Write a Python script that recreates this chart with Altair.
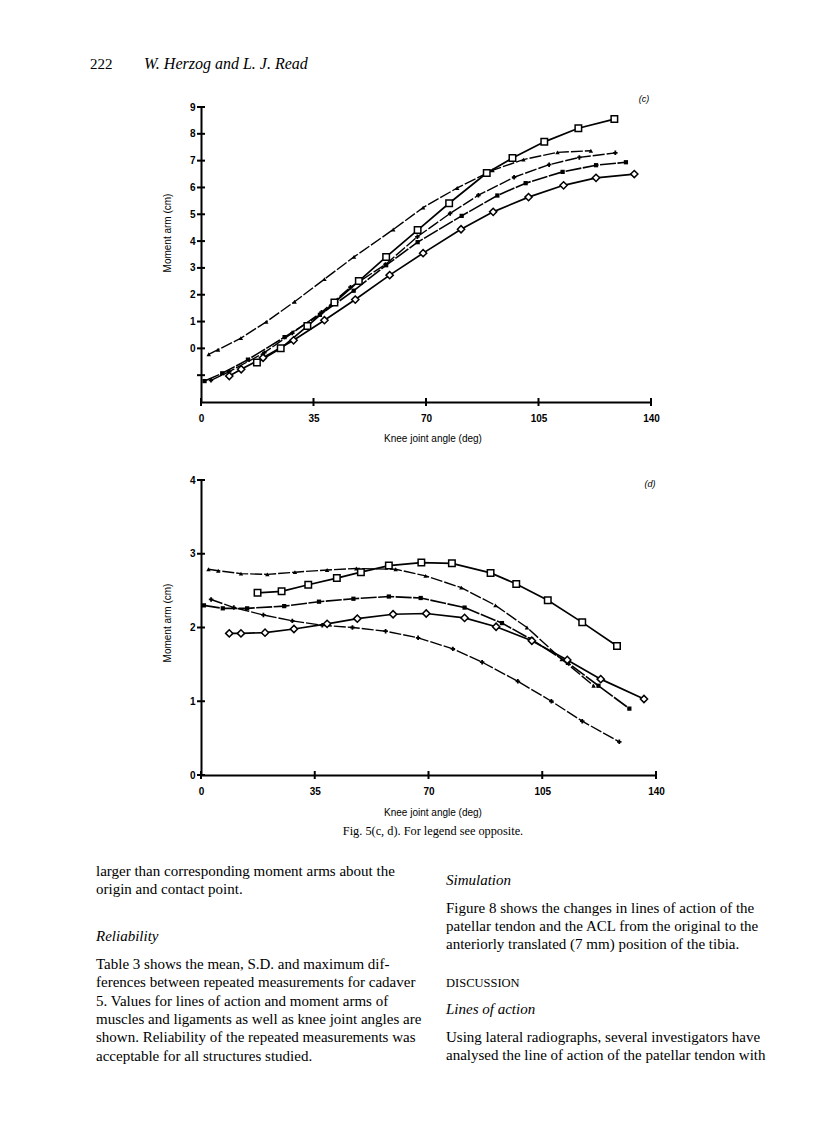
import altair as alt
import pandas as pd

# ---------------- data: panel (c) ----------------
c_open_sq_x = [17.4, 24.8, 33.1, 41.5, 49.1, 57.6, 67.4, 77.2, 88.9, 96.9, 106.8, 117.4, 128.6]
c_open_sq_y = [-0.53, 0.0, 0.83, 1.71, 2.51, 3.41, 4.41, 5.41, 6.54, 7.10, 7.70, 8.21, 8.55]
c_tri_x = [2.4, 5.3, 12.4, 20.3, 29.1, 38.4, 47.6, 59.8, 69.1, 79.7, 90.7, 100.3, 110.9, 121.3]
c_tri_y = [-0.22, -0.05, 0.38, 0.99, 1.74, 2.58, 3.41, 4.43, 5.25, 5.98, 6.64, 7.04, 7.31, 7.37]
c_plus_x = [3.1, 8.8, 19.7, 28.4, 37.5, 46.5, 57.4, 67.3, 77.5, 86.3, 97.4, 108.3, 117.7, 128.9]
c_plus_y = [-1.19, -0.87, -0.16, 0.57, 1.35, 2.28, 3.13, 4.16, 5.03, 5.71, 6.38, 6.85, 7.12, 7.29]
c_fsq_x = [1.1, 6.6, 14.6, 26.0, 37.0, 47.5, 57.6, 67.4, 81.1, 92.2, 101.0, 112.5, 122.9, 132.2]
c_fsq_y = [-1.22, -0.93, -0.42, 0.42, 1.25, 2.15, 3.10, 3.96, 4.94, 5.70, 6.16, 6.58, 6.83, 6.94]
c_dia_x = [8.8, 12.5, 19.3, 28.8, 38.4, 48.0, 58.7, 69.1, 80.9, 90.9, 101.9, 112.8, 122.9, 134.8]
c_dia_y = [-1.03, -0.78, -0.35, 0.30, 1.05, 1.82, 2.73, 3.55, 4.44, 5.09, 5.64, 6.08, 6.36, 6.50]

# ---------------- data: panel (d) ----------------
d_open_sq_x = [17.4, 24.8, 33.0, 41.8, 49.2, 57.8, 67.8, 77.2, 89.1, 97.0, 106.7, 117.3, 128.0]
d_open_sq_y = [2.47, 2.49, 2.58, 2.67, 2.75, 2.84, 2.88, 2.87, 2.74, 2.59, 2.37, 2.07, 1.75]
d_tri_x = [2.3, 5.3, 12.3, 20.4, 28.9, 38.8, 47.8, 59.9, 69.1, 80.1, 90.6, 100.3, 111.0, 120.8]
d_tri_y = [2.79, 2.77, 2.73, 2.72, 2.75, 2.78, 2.80, 2.79, 2.70, 2.54, 2.30, 2.00, 1.57, 1.21]
d_plus_x = [3.1, 10.1, 19.2, 28.1, 37.3, 46.6, 56.8, 66.8, 77.5, 86.5, 97.5, 107.8, 117.3, 128.7]
d_plus_y = [2.38, 2.27, 2.17, 2.09, 2.03, 2.00, 1.95, 1.86, 1.71, 1.53, 1.27, 1.00, 0.73, 0.45]
d_fsq_x = [0.9, 6.7, 14.2, 25.6, 36.3, 46.9, 57.8, 67.6, 81.1, 92.6, 101.6, 112.9, 122.3, 131.8]
d_fsq_y = [2.30, 2.26, 2.26, 2.29, 2.35, 2.39, 2.42, 2.40, 2.27, 2.06, 1.84, 1.52, 1.21, 0.90]
d_dia_x = [8.7, 12.3, 19.7, 28.6, 38.8, 48.1, 59.1, 69.3, 81.1, 90.8, 101.8, 112.7, 123.0, 136.3]
d_dia_y = [1.92, 1.92, 1.93, 1.98, 2.05, 2.12, 2.18, 2.19, 2.13, 2.01, 1.82, 1.56, 1.30, 1.03]

# ---------------- axes ----------------
x_ticks = [0, 35, 70, 105, 140]
c_y_ticks = [-1, 0, 1, 2, 3, 4, 5, 6, 7, 8, 9]
c_y_labels = [0, 1, 2, 3, 4, 5, 6, 7, 8, 9]
d_y_ticks = [0, 1, 2, 3, 4]
x_title = "Knee joint angle (deg)"
y_title = "Moment arm (cm)"

# ---------------- page text ----------------
header_num = "222"
header_auth = "W. Herzog and L. J. Read"
caption = "Fig. 5(c, d). For legend see opposite."
left_p1 = ["larger than corresponding moment arms about the",
           "origin and contact point."]
left_h = "Reliability"
left_p2 = ["Table 3 shows the mean, S.D. and maximum dif-",
           "ferences between repeated measurements for cadaver",
           "5. Values for lines of action and moment arms of",
           "muscles and ligaments as well as knee joint angles are",
           "shown. Reliability of the repeated measurements was",
           "acceptable for all structures studied."]
right_h1 = "Simulation"
right_p1 = ["Figure 8 shows the changes in lines of action of the",
            "patellar tendon and the ACL from the original to the",
            "anteriorly translated (7 mm) position of the tibia."]
right_h2 = "DISCUSSION"
right_h3 = "Lines of action"
right_p2 = ["Using lateral radiographs, several investigators have",
            "analysed the line of action of the patellar tendon with"]

SANS = "Liberation Sans"
SERIF = "Liberation Serif"

STYLES = {
    "fsq": dict(line=dict(strokeWidth=1.6, strokeDash=[16, 1.5]),
                pt=dict(shape="square", size=18, filled=True, fill="black", strokeWidth=0)),
    "plus": dict(line=dict(strokeWidth=1.4, strokeDash=[12, 2]),
                 pt=dict(shape="cross", size=20, filled=True, fill="black", strokeWidth=0)),
    "tri": dict(line=dict(strokeWidth=1.4, strokeDash=[12, 2]),
                pt=dict(shape="triangle-up", size=20, filled=True, fill="black", strokeWidth=0)),
    "dia": dict(line=dict(strokeWidth=1.7),
                pt=dict(shape="diamond", size=52, filled=True, fill="white", stroke="black", strokeWidth=1.5)),
    "osq": dict(line=dict(strokeWidth=1.7),
                pt=dict(shape="square", size=42, filled=True, fill="white", stroke="black", strokeWidth=1.5)),
}

ONE = pd.DataFrame({"k": [0]})


def txt(s, x, y, size=15, font=SERIF, style="normal", align="left", baseline="alphabetic",
        angle=0, lh=18.3, weight="normal"):
    return alt.Chart(ONE).mark_text(
        text=s, font=font, fontSize=size, fontStyle=style, fontWeight=weight, align=align,
        baseline=baseline, angle=angle, lineHeight=lh, color="black"
    ).encode(x=alt.value(x), y=alt.value(y))


def panel(series, y_dom, y_tick_vals, y_lab_vals, W, H, extra):
    xs = alt.Scale(domain=[0, 140], nice=False, zero=False)
    ys = alt.Scale(domain=y_dom, nice=False, zero=False)
    xax = alt.Axis(values=x_ticks, ticks=False, tickSize=0, grid=False, title=None,
                   domainColor="black", domainWidth=2, labelFont=SANS, labelFontSize=10,
                   labelFontWeight="bold", labelColor="black", labelPadding=11, labelFlush=False)
    yax = alt.Axis(values=y_lab_vals, ticks=False, tickSize=0, grid=False, title=None,
                   domainColor="black", domainWidth=2, labelFont=SANS, labelFontSize=10,
                   labelFontWeight="bold", labelColor="black", labelPadding=6, labelFlush=False)
    X = alt.X("angle:Q", scale=xs, axis=xax)
    Y = alt.Y("arm:Q", scale=ys, axis=yax)
    layers = []
    for key, xv, yv in series:
        st = STYLES[key]
        df = pd.DataFrame({"angle": xv, "arm": yv})
        layers.append(alt.Chart(df).mark_line(color="black", **st["line"]).encode(x=X, y=Y))
    for key, xv, yv in series:
        st = STYLES[key]
        df = pd.DataFrame({"angle": xv, "arm": yv})
        layers.append(alt.Chart(df).mark_point(opacity=1, **st["pt"]).encode(x=X, y=Y))
    # crossing tick marks
    xt = pd.DataFrame({"angle": x_ticks})
    layers.append(alt.Chart(xt).mark_rule(color="black", strokeWidth=2).encode(
        x=X, y=alt.value(H - 4), y2=alt.value(H + 4)))
    yt = pd.DataFrame({"arm": y_tick_vals})
    layers.append(alt.Chart(yt).mark_rule(color="black", strokeWidth=2).encode(
        y=Y, x=alt.value(-4), x2=alt.value(4)))
    return alt.layer(*layers, *extra).properties(width=W, height=H)


WC, HC = 450, 295
WD, HD = 455, 295

c_series = [("fsq", c_fsq_x, c_fsq_y), ("plus", c_plus_x, c_plus_y), ("tri", c_tri_x, c_tri_y),
            ("dia", c_dia_x, c_dia_y), ("osq", c_open_sq_x, c_open_sq_y)]
d_series = [("fsq", d_fsq_x, d_fsq_y), ("plus", d_plus_x, d_plus_y), ("tri", d_tri_x, d_tri_y),
            ("dia", d_dia_x, d_dia_y), ("osq", d_open_sq_x, d_open_sq_y)]

anchor = alt.Chart(ONE).mark_rule(color="white", strokeWidth=1).encode(
    x=alt.value(-192), x2=alt.value(600), y=alt.value(-98))

c_extra = [
    anchor,
    txt(header_num, -111, -43, size=15, baseline="middle"),
    txt(header_auth, -57, -43, size=16, style="italic", baseline="middle"),
    txt("(c)", 443, -8, size=9, font=SANS, style="italic", baseline="middle", align="center"),
    txt(x_title, 232, 332, size=10, font=SANS, baseline="middle", align="center"),
    txt(y_title, -33, 126, size=10, font=SANS, baseline="middle", align="center", angle=270),
]

d_extra = [
    txt("(d)", 449, 4, size=9, font=SANS, style="italic", baseline="middle", align="center"),
    txt(x_title, 232, 333, size=10, font=SANS, baseline="middle", align="center"),
    txt(y_title, -33, 143, size=10, font=SANS, baseline="middle", align="center", angle=270),
    txt(caption, 232, 355, size=12.3, align="center"),
    txt(left_p1, -105, 396),
    txt(left_h, -105, 461, style="italic"),
    txt(left_p2, -105, 489),
    txt(right_h1, 245, 405, style="italic"),
    txt(right_p1, 245, 432.7),
    txt(right_h2, 245, 507.3, size=12.5),
    txt(right_h3, 245, 534, style="italic"),
    txt(right_p2, 245, 561.7),
]

chart_c = panel(c_series, [-2, 9], c_y_ticks, c_y_labels, WC, HC, c_extra)
chart_d = panel(d_series, [0, 4], d_y_ticks, d_y_ticks, WD, HD, d_extra)

chart = alt.vconcat(chart_c, chart_d, spacing=78, bounds="flush").properties(
    padding=0, background="white"
).configure_view(stroke="transparent")

chart.save("out.html", embed_options={"renderer": "svg", "actions": False})
